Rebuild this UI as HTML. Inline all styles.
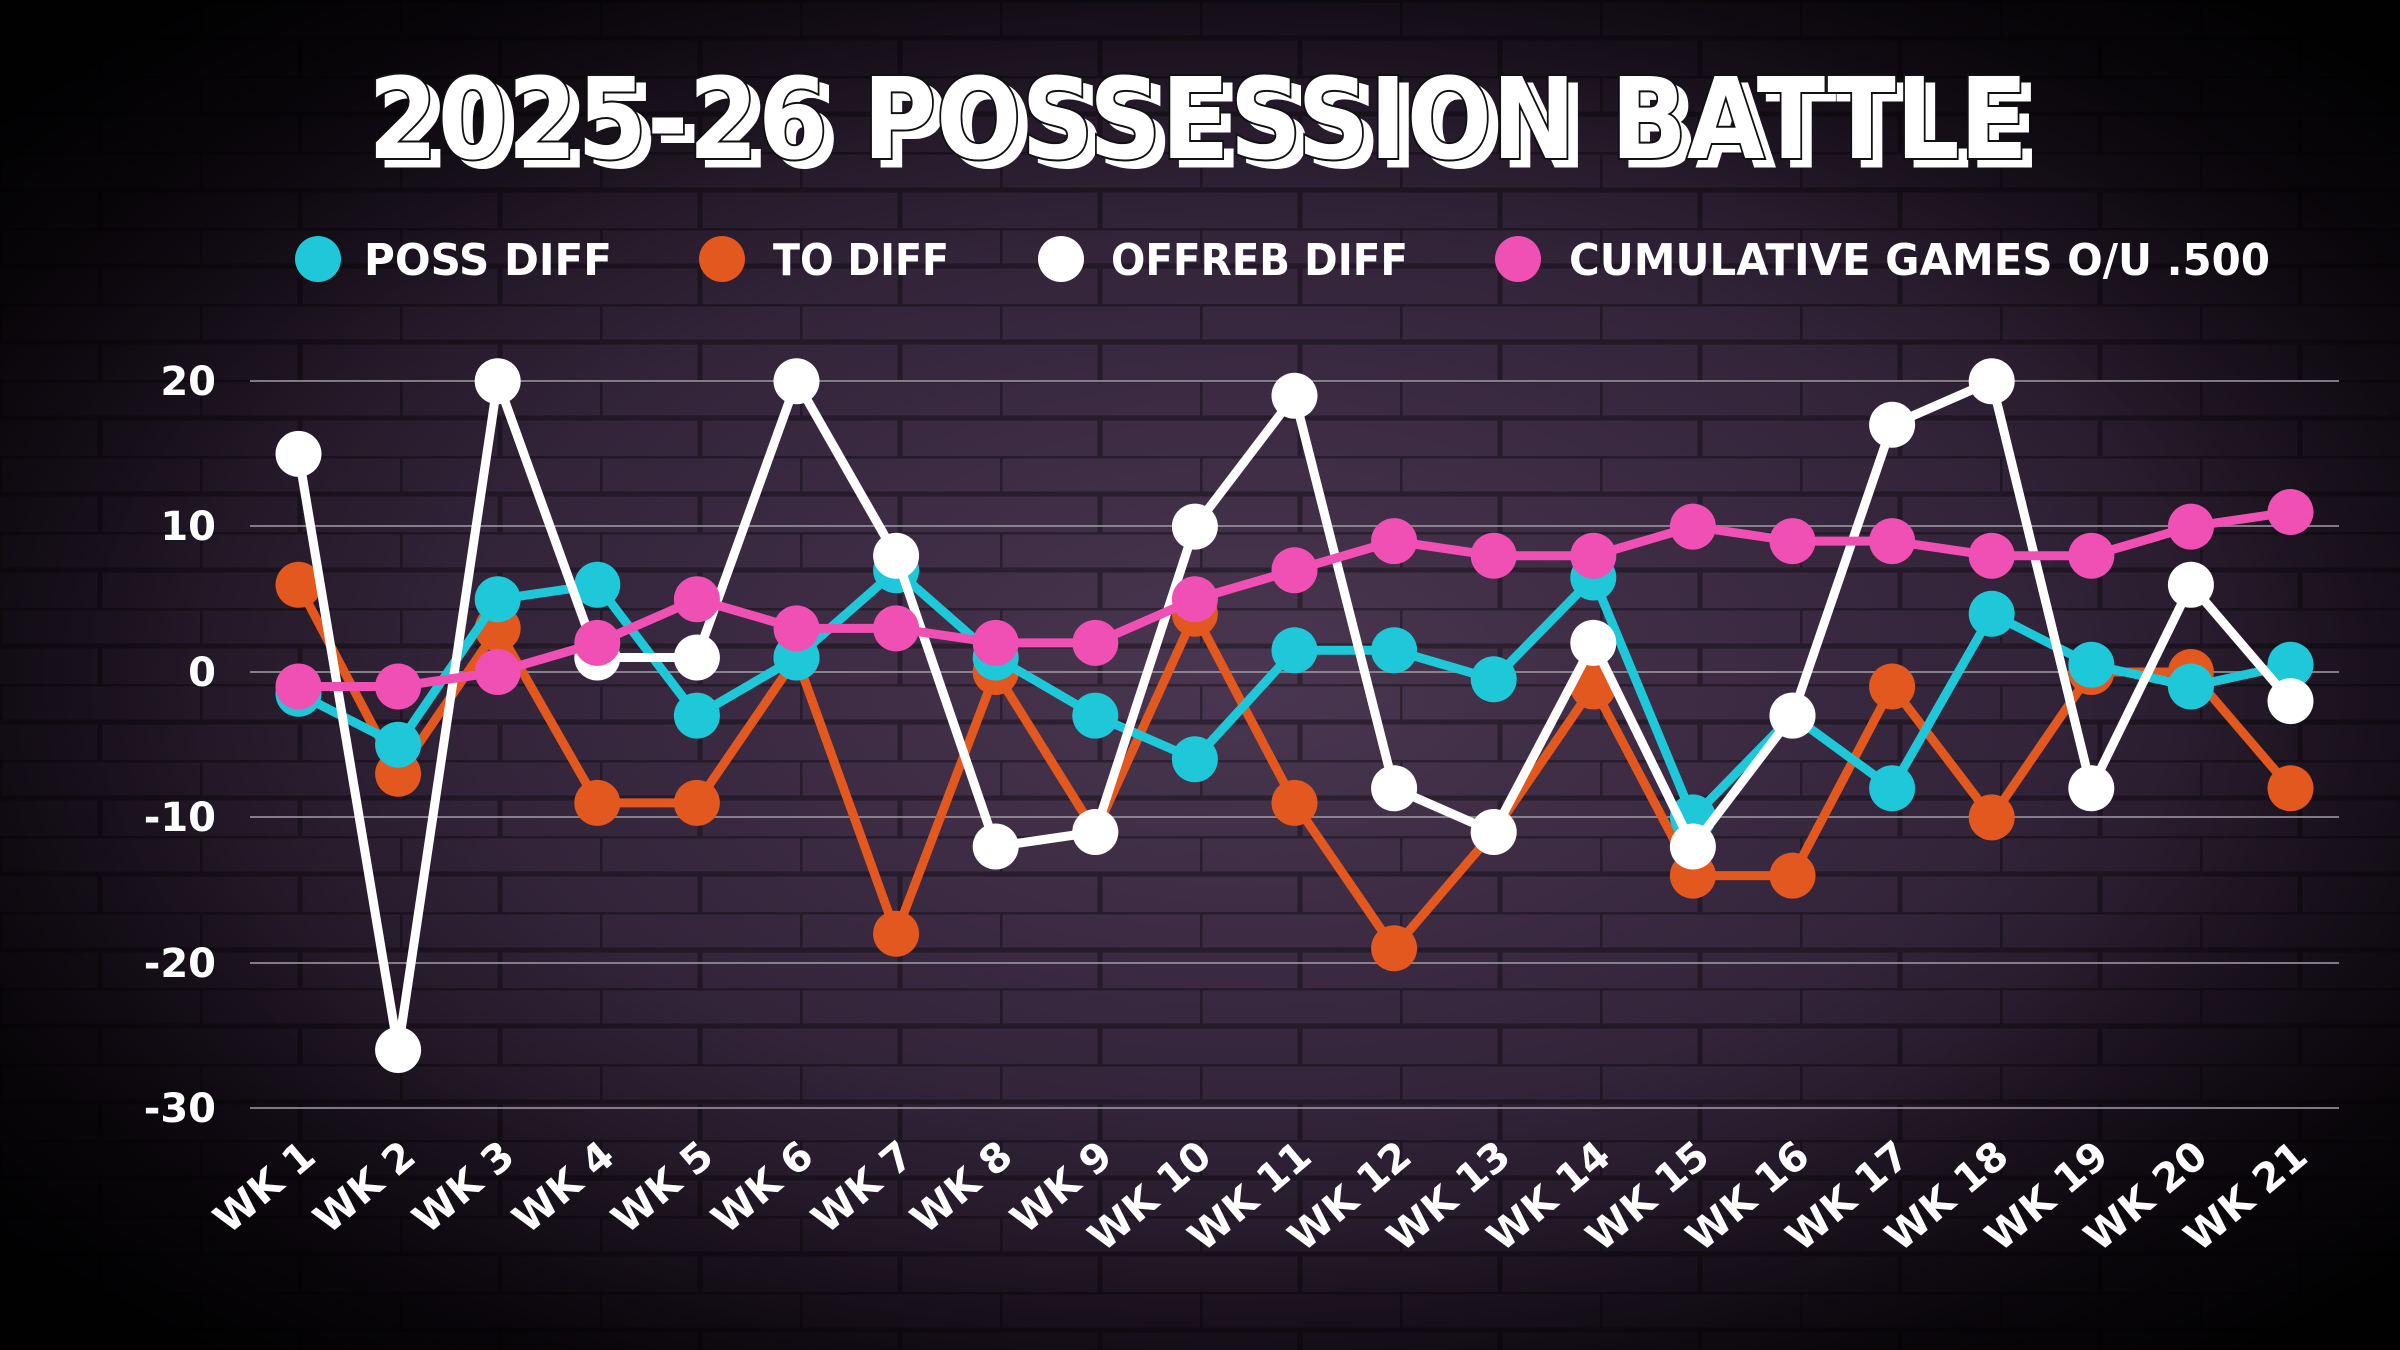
<!DOCTYPE html>
<html><head><meta charset="utf-8"><style>
html,body{margin:0;padding:0;background:#000;}
svg{display:block;}
text{font-family:"DejaVu Sans","Liberation Sans",sans-serif;font-weight:bold;fill:#fff;}
</style></head><body>
<svg width="2400" height="1350" viewBox="0 0 2400 1350" xmlns="http://www.w3.org/2000/svg">
<defs>
<radialGradient id="bg" cx="0.52" cy="0.5" r="0.65">
<stop offset="0" stop-color="#4a3650"/>
<stop offset="0.5" stop-color="#33243a"/>
<stop offset="0.85" stop-color="#120c14"/>
<stop offset="1" stop-color="#050306"/>
</radialGradient>
<pattern id="brick" width="200" height="76" patternUnits="userSpaceOnUse">
<path d="M0 0H200M0 38H200M0 0V38M100 38V76" stroke="#000" stroke-opacity="0.35" stroke-width="5" fill="none"/>
</pattern>
<radialGradient id="vig" cx="0.5" cy="0.5" r="0.75">
<stop offset="0.55" stop-color="#000" stop-opacity="0"/>
<stop offset="1" stop-color="#000" stop-opacity="0.85"/>
</radialGradient>
<marker id="mo" markerUnits="userSpaceOnUse" markerWidth="50" markerHeight="50" refX="25" refY="25" viewBox="0 0 50 50"><circle cx="25" cy="25" r="23" fill="#e2581f"/></marker>
<marker id="mc" markerUnits="userSpaceOnUse" markerWidth="50" markerHeight="50" refX="25" refY="25" viewBox="0 0 50 50"><circle cx="25" cy="25" r="23" fill="#1ec8d8"/></marker>
<marker id="mw" markerUnits="userSpaceOnUse" markerWidth="50" markerHeight="50" refX="25" refY="25" viewBox="0 0 50 50"><circle cx="25" cy="25" r="23" fill="#ffffff"/></marker>
<marker id="mp" markerUnits="userSpaceOnUse" markerWidth="50" markerHeight="50" refX="25" refY="25" viewBox="0 0 50 50"><circle cx="25" cy="25" r="23" fill="#f050b4"/></marker>
</defs>
<rect width="2400" height="1350" fill="url(#bg)"/>
<rect width="2400" height="1350" fill="url(#brick)"/>
<rect width="2400" height="1350" fill="url(#vig)"/>

<text x="372" y="160" font-size="112" textLength="1660" lengthAdjust="spacingAndGlyphs" fill="#222" stroke="#fff" stroke-width="3" transform="translate(6,6)">2025-26 POSSESSION BATTLE</text>
<text x="368" y="158" font-size="112" textLength="1660" lengthAdjust="spacingAndGlyphs" stroke="#111" stroke-width="4" paint-order="stroke">2025-26 POSSESSION BATTLE</text>

<g font-size="44">
<circle cx="318" cy="259" r="23" fill="#1ec8d8"/><text x="364" y="275" textLength="248" lengthAdjust="spacingAndGlyphs">POSS DIFF</text>
<circle cx="722" cy="259" r="23" fill="#e2581f"/><text x="773" y="275" textLength="176" lengthAdjust="spacingAndGlyphs">TO DIFF</text>
<circle cx="1061" cy="259" r="23" fill="#fff"/><text x="1111" y="275" textLength="297" lengthAdjust="spacingAndGlyphs">OFFREB DIFF</text>
<circle cx="1518" cy="259" r="23" fill="#f050b4"/><text x="1569" y="275" textLength="701" lengthAdjust="spacingAndGlyphs">CUMULATIVE GAMES O/U .500</text>
</g>

<g stroke="#9a96a0" stroke-width="2" opacity="0.8">
<line x1="250" x2="2339" y1="381" y2="381"/>
<line x1="250" x2="2339" y1="526" y2="526"/>
<line x1="250" x2="2339" y1="672" y2="672"/>
<line x1="250" x2="2339" y1="817" y2="817"/>
<line x1="250" x2="2339" y1="963" y2="963"/>
<line x1="250" x2="2339" y1="1108" y2="1108"/>
</g>
<g font-size="40" text-anchor="end">
<text x="216" y="395">20</text>
<text x="216" y="540">10</text>
<text x="216" y="686">0</text>
<text x="216" y="831">-10</text>
<text x="216" y="977">-20</text>
<text x="216" y="1122">-30</text>
</g>

<g font-size="40" text-anchor="end">
<text transform="translate(318,1160) rotate(-40)">WK 1</text>
<text transform="translate(418,1160) rotate(-40)">WK 2</text>
<text transform="translate(517,1160) rotate(-40)">WK 3</text>
<text transform="translate(617,1160) rotate(-40)">WK 4</text>
<text transform="translate(716,1160) rotate(-40)">WK 5</text>
<text transform="translate(816,1160) rotate(-40)">WK 6</text>
<text transform="translate(916,1160) rotate(-40)">WK 7</text>
<text transform="translate(1015,1160) rotate(-40)">WK 8</text>
<text transform="translate(1115,1160) rotate(-40)">WK 9</text>
<text transform="translate(1214,1160) rotate(-40)">WK 10</text>
<text transform="translate(1314,1160) rotate(-40)">WK 11</text>
<text transform="translate(1414,1160) rotate(-40)">WK 12</text>
<text transform="translate(1513,1160) rotate(-40)">WK 13</text>
<text transform="translate(1613,1160) rotate(-40)">WK 14</text>
<text transform="translate(1712,1160) rotate(-40)">WK 15</text>
<text transform="translate(1812,1160) rotate(-40)">WK 16</text>
<text transform="translate(1912,1160) rotate(-40)">WK 17</text>
<text transform="translate(2011,1160) rotate(-40)">WK 18</text>
<text transform="translate(2111,1160) rotate(-40)">WK 19</text>
<text transform="translate(2210,1160) rotate(-40)">WK 20</text>
<text transform="translate(2310,1160) rotate(-40)">WK 21</text>
</g>

<g fill="none" stroke-width="9" stroke-linejoin="round">
<polyline stroke="#e2581f" marker-start="url(#mo)" marker-mid="url(#mo)" marker-end="url(#mo)" points="298.5,584.8 398.1,773.8 497.7,628.4 597.3,802.9 696.9,802.9 796.5,657.5 896.1,933.7 995.7,672 1095.3,832 1194.9,613.8 1294.5,802.9 1394.1,948.3 1493.7,832 1593.3,686.5 1692.9,875.6 1792.5,875.6 1892.1,686.5 1991.7,817.4 2091.3,672 2190.9,672 2290.5,788.3"/>
<polyline stroke="#1ec8d8" marker-start="url(#mc)" marker-mid="url(#mc)" marker-end="url(#mc)" points="298.5,693.8 398.1,744.7 497.7,599.3 597.3,584.8 696.9,715.6 796.5,657.5 896.1,570.2 995.7,657.5 1095.3,715.6 1194.9,759.2 1294.5,650.2 1394.1,650.2 1493.7,679.3 1593.3,577.5 1692.9,817.4 1792.5,715.6 1892.1,788.3 1991.7,613.8 2091.3,664.7 2190.9,686.5 2290.5,664.7"/>
<polyline stroke="#ffffff" marker-start="url(#mw)" marker-mid="url(#mw)" marker-end="url(#mw)" points="298.5,453.9 398.1,1050 497.7,381.2 597.3,657.5 696.9,657.5 796.5,381.2 896.1,555.7 995.7,846.5 1095.3,832 1194.9,526.6 1294.5,395.7 1394.1,788.3 1493.7,832 1593.3,642.9 1692.9,846.5 1792.5,715.6 1892.1,424.8 1991.7,381.2 2091.3,788.3 2190.9,584.8 2290.5,701.1"/>
<polyline stroke="#f050b4" marker-start="url(#mp)" marker-mid="url(#mp)" marker-end="url(#mp)" points="298.5,686.5 398.1,686.5 497.7,672 597.3,642.9 696.9,599.3 796.5,628.4 896.1,628.4 995.7,642.9 1095.3,642.9 1194.9,599.3 1294.5,570.2 1394.1,541.1 1493.7,555.7 1593.3,555.7 1692.9,526.6 1792.5,541.1 1892.1,541.1 1991.7,555.7 2091.3,555.7 2190.9,526.6 2290.5,512"/>
</g>
</svg>
</body></html>
